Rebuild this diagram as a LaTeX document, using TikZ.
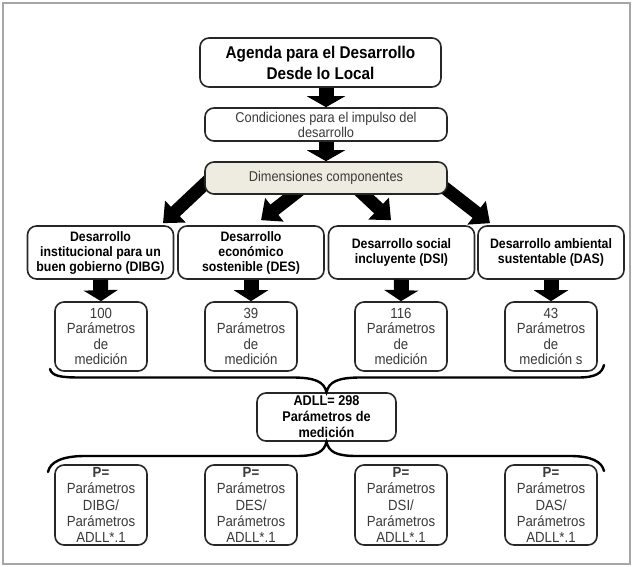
\documentclass[tikz,border=0pt]{standalone}
\usepackage{fontspec}
\setmainfont[FakeStretch=0.9]{Liberation Sans}
\usetikzlibrary{arrows.meta,backgrounds}
\definecolor{dimfill}{HTML}{EEECE1}
\definecolor{framegray}{HTML}{A6A6A6}
\definecolor{boxline}{HTML}{262626}
\definecolor{txt}{HTML}{3A3A3A}
\tikzset{
  box/.style={draw=boxline, line width=1.6pt, rounded corners=9pt, fill=white, align=center,
    inner sep=0pt, text=txt, font=\fontsize{14.2}{15}\selectfont},
  bbox/.style={box, text=black, font=\bfseries\fontsize{13.7}{15}\selectfont},
  lvfour/.style={bbox, minimum width=146pt, minimum height=53pt},
  lvfive/.style={box, minimum width=92pt, minimum height=69pt, font=\fontsize{14.7}{15.5}\selectfont},
  lvsix/.style={box, minimum width=92pt, minimum height=80pt, font=\fontsize{14.7}{16.3}\selectfont},
  vbig/.style={line width=15pt, black, -{Triangle[width=38pt,length=11pt]}},
  vsmall/.style={line width=15pt, black, -{Triangle[width=34pt,length=11pt]}},
  diagarrow/.style={line width=13pt, black, -{Triangle[width=29pt,length=17pt]}},
  bracestyle/.style={line width=2.4pt, black, line cap=round},
}
\begin{document}
\begin{tikzpicture}[x=1pt,y=-1pt]
\useasboundingbox (0,0) rectangle (633,567);
\draw[framegray, line width=1.5pt] (3,3) rectangle (630,564);

\node[bbox, minimum width=241pt, minimum height=49pt, font=\bfseries\fontsize{17}{21}\selectfont]
  (top) at (320.5,62.5) {Agenda para el Desarrollo\\Desde lo Local};
\node[box, minimum width=242pt, minimum height=33pt] (cond) at (326,124.5)
  {Condiciones para el impulso del\\desarrollo};
\node[box, fill=dimfill, minimum width=242pt, minimum height=32pt] (dims) at (326,178)
  {Dimensiones componentes};

\node[lvfour] (dA) at (100.5,252.5) {Desarrollo\\institucional para un\\buen gobierno (DIBG)};
\node[lvfour] (dB) at (251,252.5) {Desarrollo\\económico\\sostenible (DES)};
\node[lvfour] (dC) at (401.5,252.5) {Desarrollo social\\incluyente (DSI)};
\node[lvfour] (dD) at (551,252.5) {Desarrollo ambiental\\sustentable (DAS)};

\node[lvfive] (pA) at (101,336.5) {100\\Parámetros\\de\\medición};
\node[lvfive] (pB) at (251,336.5) {39\\Parámetros\\de\\medición};
\node[lvfive] (pC) at (401,336.5) {116\\Parámetros\\de\\medición};
\node[lvfive] (pD) at (551,336.5) {43\\Parámetros\\de\\medición s};

\node[bbox, minimum width=139pt, minimum height=48pt, font=\bfseries\fontsize{14.1}{16}\selectfont]
  (adll) at (326.5,417) {ADLL= 298\\Parámetros de\\medición};

\node[lvsix] (qA) at (101,505) {\textbf{P=}\\Parámetros\\DIBG/\\Parámetros\\ADLL*.1};
\node[lvsix] (qB) at (251,505) {\textbf{P=}\\Parámetros\\DES/\\Parámetros\\ADLL*.1};
\node[lvsix] (qC) at (401,505) {\textbf{P=}\\Parámetros\\DSI/\\Parámetros\\ADLL*.1};
\node[lvsix] (qD) at (551,505) {\textbf{P=}\\Parámetros\\DAS/\\Parámetros\\ADLL*.1};

% vertical block arrows
\draw[vbig] (cond.north |- top.south) -- (cond.north);
\draw[vbig] (dims.north |- cond.south) -- (dims.north);
\draw[vsmall] (dA.south) -- (pA.north);
\draw[vsmall] (dB.south) -- (pB.north);
\draw[vsmall] (dC.south) -- (pC.north);
\draw[vsmall] (dD.south) -- (pD.north);

% diagonal arrows behind the Dimensiones box
\begin{scope}[on background layer]
\draw[diagarrow] ([xshift=-115pt]dims.center) -- ([xshift=62.5pt,yshift=2pt]dA.north);
\draw[diagarrow] ([xshift=-11pt]dims.center) -- ([xshift=10pt,yshift=5pt]dB.north);
\draw[diagarrow] ([xshift=20pt]dims.center) -- ([xshift=-10.5pt,yshift=5pt]dC.north);
\draw[diagarrow] ([xshift=106pt]dims.center) -- ([xshift=-61pt,yshift=2pt]dD.north);
\end{scope}

% brace under the parameter boxes
\draw[bracestyle] (50,369) .. controls (52,376) and (60,377.5) .. (80,377.5)
  -- (292,377.5) .. controls (316,377.5) and (324,382) .. (adll.north)
  .. controls (329,382) and (337,377.5) .. (361,377.5)
  -- (578,377.5) .. controls (596,377.5) and (602,373) .. (604,365);
% brace above the P boxes
\draw[bracestyle] (48,472) .. controls (50,462) and (62,456) .. (85,456)
  -- (296,456) .. controls (317,456) and (324,452) .. (adll.south)
  .. controls (329,452) and (336,456) .. (357,456)
  -- (570,456) .. controls (592,456) and (602,462) .. (604,471);
\end{tikzpicture}
\end{document}
